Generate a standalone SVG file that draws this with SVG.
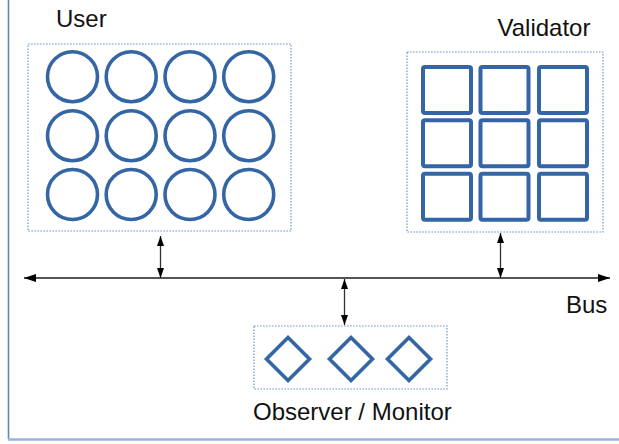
<svg xmlns="http://www.w3.org/2000/svg" width="619" height="444" viewBox="0 0 619 444">
<style>
  text { font-family: "Liberation Sans", Arial, sans-serif; font-size: 24px; fill: #111; }
  .box { fill: none; stroke: #6f95c8; stroke-width: 1.2; stroke-dasharray: 1.6 1.4; }
  .c { fill: #fff; stroke: #3465a4; stroke-width: 3.6; }
  .sq { fill: #fff; stroke: #3465a4; stroke-width: 4; }
  .dm { fill: #fff; stroke: #3465a4; stroke-width: 3.6; stroke-linejoin: miter; }
  .bus { stroke: #555; stroke-width: 2; fill: none; }
  .lnk { stroke: #333; stroke-width: 1.3; fill: none; }
</style>
<defs>
  <marker id="ah" markerUnits="userSpaceOnUse" markerWidth="14" markerHeight="10" refX="12" refY="5" orient="auto-start-reverse">
    <path d="M0,1 L12,5 L0,9 Z" fill="#000"/>
  </marker>
  <marker id="as" markerUnits="userSpaceOnUse" markerWidth="12" markerHeight="10" refX="10" refY="4" orient="auto-start-reverse">
    <path d="M0,0.5 L10,4 L0,7.5 Z" fill="#000"/>
  </marker>
</defs>

<g id="frame">
  <line x1="8.5" y1="0" x2="8.5" y2="439" stroke="#5f87c0" stroke-width="1.6"/>
  <line x1="8" y1="439.5" x2="619" y2="439.5" stroke="#9ab4d9" stroke-width="2.5"/>
</g>

<g id="user">
  <text x="56" y="27">User</text>
  <rect class="box" x="28" y="44" width="263" height="187"/>
  <circle class="c" cx="72.5" cy="76.7" r="25"/>
  <circle class="c" cx="131.2" cy="76.7" r="25"/>
  <circle class="c" cx="190" cy="76.7" r="25"/>
  <circle class="c" cx="248.7" cy="76.7" r="25"/>
  <circle class="c" cx="72.5" cy="135.7" r="25"/>
  <circle class="c" cx="131.2" cy="135.7" r="25"/>
  <circle class="c" cx="190" cy="135.7" r="25"/>
  <circle class="c" cx="248.7" cy="135.7" r="25"/>
  <circle class="c" cx="72.5" cy="194.5" r="25"/>
  <circle class="c" cx="131.2" cy="194.5" r="25"/>
  <circle class="c" cx="190" cy="194.5" r="25"/>
  <circle class="c" cx="248.7" cy="194.5" r="25"/>
</g>

<g id="validator">
  <text x="497.5" y="36">Validator</text>
  <rect class="box" x="407" y="52" width="196" height="180"/>
  <rect class="sq" x="423" y="67" width="48" height="46" rx="2"/>
  <rect class="sq" x="480.5" y="67" width="48" height="46" rx="2"/>
  <rect class="sq" x="539" y="67" width="48" height="46" rx="2"/>
  <rect class="sq" x="423" y="120.3" width="48" height="46" rx="2"/>
  <rect class="sq" x="480.5" y="120.3" width="48" height="46" rx="2"/>
  <rect class="sq" x="539" y="120.3" width="48" height="46" rx="2"/>
  <rect class="sq" x="423" y="173.7" width="48" height="46" rx="2"/>
  <rect class="sq" x="480.5" y="173.7" width="48" height="46" rx="2"/>
  <rect class="sq" x="539" y="173.7" width="48" height="46" rx="2"/>
</g>

<g id="observer">
  <rect class="box" x="254" y="326" width="193" height="63"/>
  <path class="dm" d="M288,337.5 L309.5,359 L288,380.5 L266.5,359 Z"/>
  <path class="dm" d="M351,337.5 L372.5,359 L351,380.5 L329.5,359 Z"/>
  <path class="dm" d="M409,337.5 L430.5,359 L409,380.5 L387.5,359 Z"/>
  <text x="253" y="420">Observer / Monitor</text>
</g>

<g id="bus">
  <text x="566" y="313">Bus</text>
</g>

<g id="connectors">
  <line class="bus" x1="24" y1="278" x2="610" y2="278" marker-start="url(#ah)" marker-end="url(#ah)"/>
  <line class="lnk" x1="160.5" y1="236" x2="160.5" y2="278" marker-start="url(#as)" marker-end="url(#as)"/>
  <line class="lnk" x1="500.5" y1="233" x2="500.5" y2="278" marker-start="url(#as)" marker-end="url(#as)"/>
  <line class="lnk" x1="344.5" y1="279" x2="344.5" y2="325" marker-start="url(#as)" marker-end="url(#as)"/>
</g>
</svg>
